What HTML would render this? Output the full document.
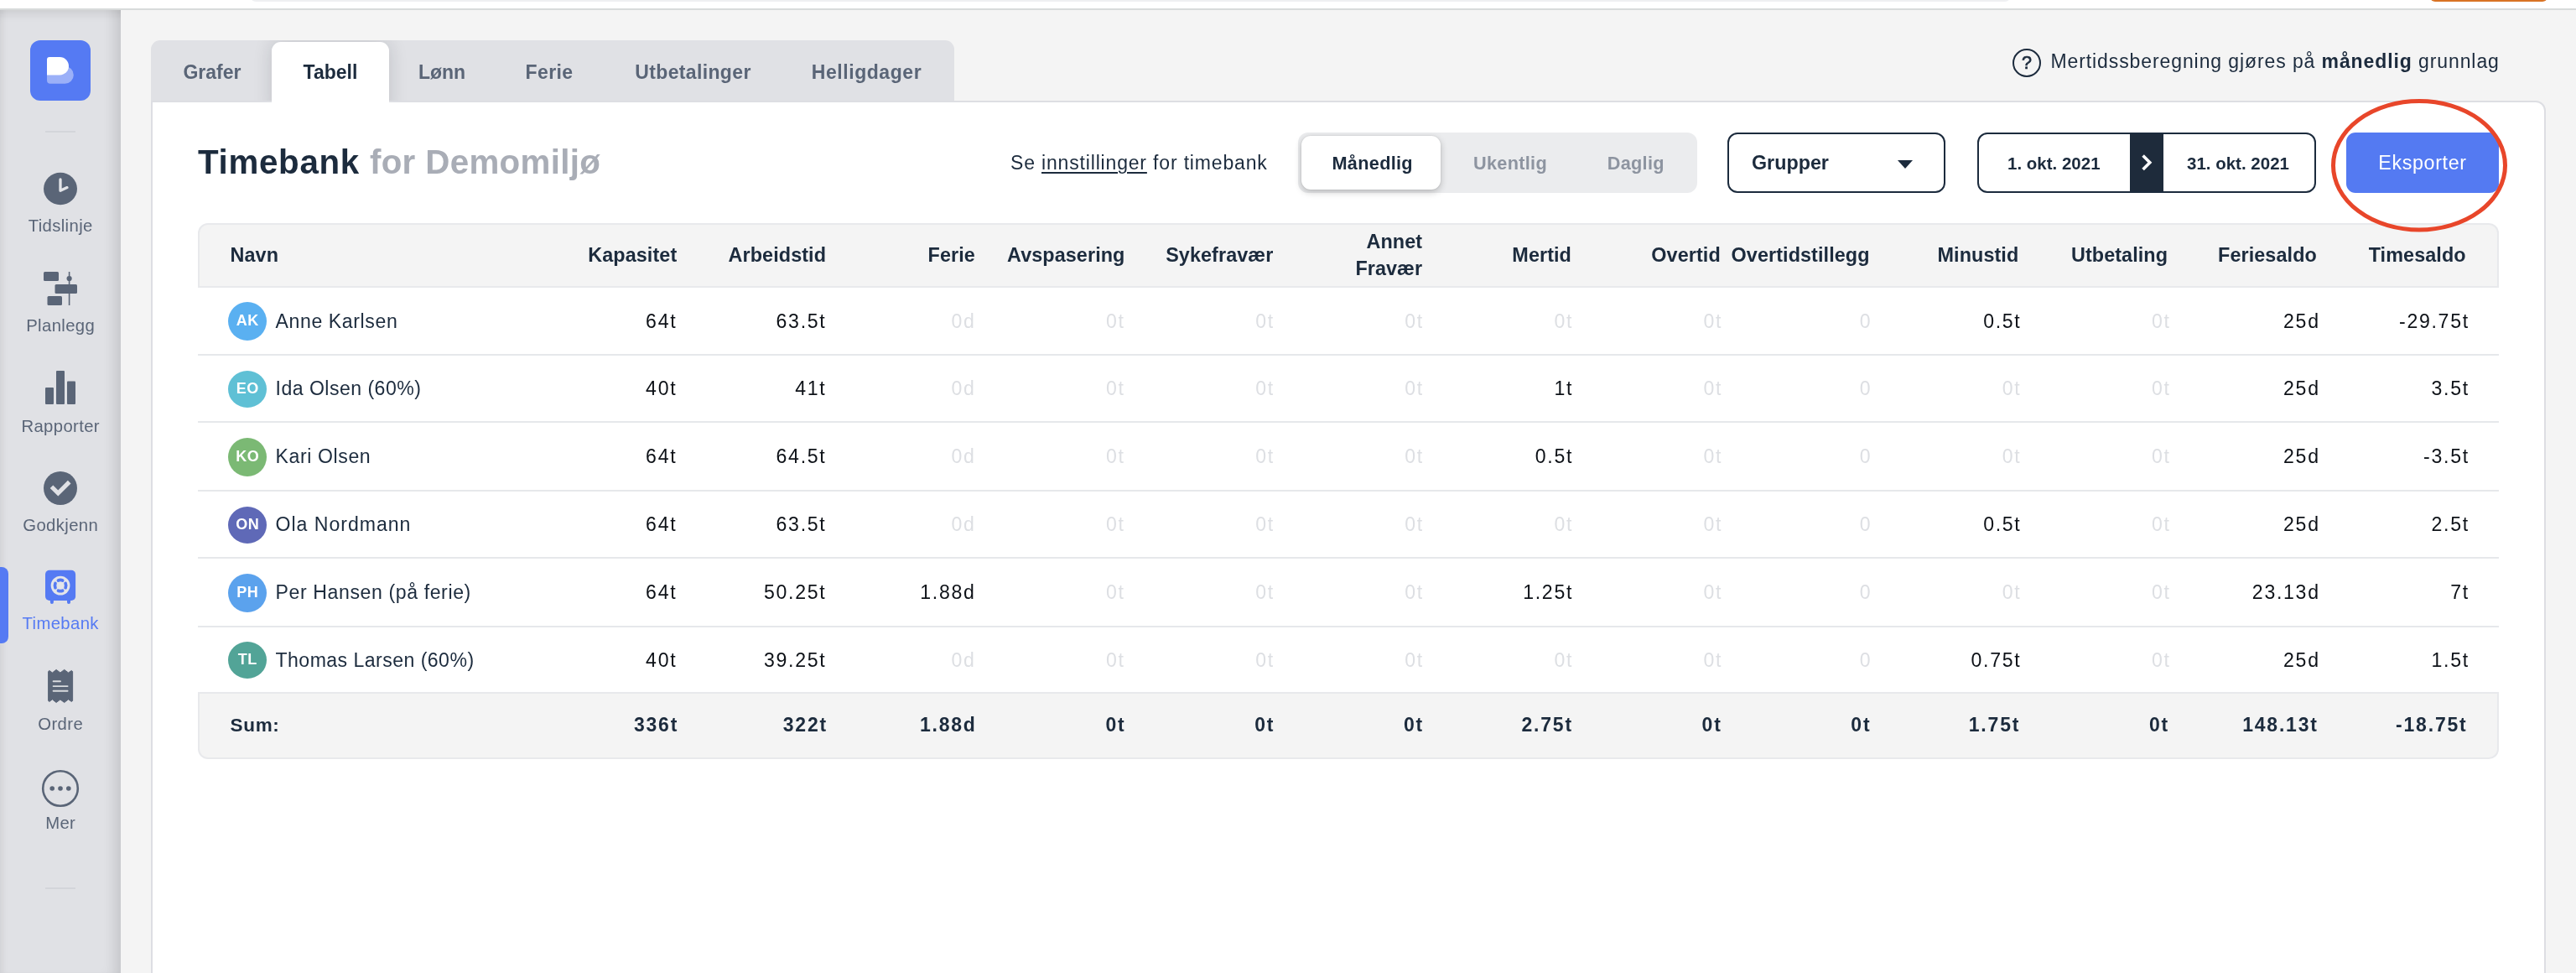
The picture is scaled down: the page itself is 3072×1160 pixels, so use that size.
<!DOCTYPE html>
<html lang="no">
<head>
<meta charset="utf-8">
<title>Timebank</title>
<style>
*{box-sizing:border-box;margin:0;padding:0}
html,body{width:3072px;height:1160px;overflow:hidden}
body{position:relative;will-change:transform;background:#f4f4f4;font-family:"Liberation Sans",sans-serif;color:#1c2b3d;-webkit-font-smoothing:antialiased}
.abs{position:absolute}
.t{position:absolute;white-space:nowrap;line-height:1}
.sb{-webkit-text-stroke:.7px currentColor}
.sb2{font-weight:bold}

/* top strip */
#topbar{position:absolute;z-index:5;left:0;top:0;width:3072px;height:12px;background:#fff;border-bottom:2px solid #d8dbdb}
#topbar .search{position:absolute;left:299px;top:-10px;width:2098px;height:12px;background:#eff0f2;border-radius:8px}
#topbar .cta{position:absolute;left:2898px;top:-10px;width:140px;height:12px;background:#d97324;border-radius:8px}

/* sidebar */
#side{position:absolute;left:0;top:0;width:144px;height:1160px;background:#e0e1e5;
 box-shadow:inset -17px 0 15px -10px rgba(0,0,0,.12),inset 8px 0 7px -5px rgba(0,0,0,.07),inset 0 26px 12px -10px rgba(0,0,0,.10)}
#logo{position:absolute;left:36px;top:48px;width:72px;height:72px;border-radius:12px;background:#557af3}
.hr{position:absolute;left:54px;width:36px;height:2px;background:#d3d5da}
.nav{position:absolute;left:0;width:144px;text-align:center;font-size:20.3px;letter-spacing:.38px;text-indent:.38px;line-height:1;color:#5a6577;white-space:nowrap}
.nav.act{color:#557af3}
#ind{position:absolute;left:0;top:676px;width:10px;height:91px;background:#557af3;border-radius:0 8px 8px 0}

/* tabs */
#tabs{position:absolute;left:180px;top:48px;width:958px;height:75px;background:#e0e1e5;border-radius:11px 11px 0 0;overflow:hidden}
#tabs .shade{position:absolute;left:144px;top:2px;width:140px;height:90px;border-radius:11px;box-shadow:0 0 22px rgba(20,25,40,.16)}
.tab{position:absolute;top:0;height:74px;font-size:23px;letter-spacing:0;line-height:1;color:#5a6577;white-space:nowrap}
.tab span{position:absolute;top:26.6px;left:0;right:0;text-align:center}
.tab.on{top:2px;background:#fff;border-radius:11px 11px 0 0;color:#1c2b3d;height:74px;box-shadow:0 0 14px rgba(0,0,0,.10)}
.tab.on span{top:24.6px}
#tabmask{position:absolute;left:180px;top:121px;width:960px;height:10px;background:#fff}
#info{position:absolute;left:2445.5px;top:62.4px;font-size:23px;line-height:1;white-space:nowrap;color:#1c2b3d;letter-spacing:.9px}
#q{position:absolute;left:2400px;top:58px;width:34px;height:34px;border:2.3px solid #1c2b3d;border-radius:50%;font-size:21.5px;line-height:30.5px;text-align:center;color:#1c2b3d}
/* card */
#card{position:absolute;left:180px;top:120px;width:2856px;height:1060px;background:#fff;border:2px solid #dddee3;border-radius:0 12px 0 0}
#title{position:absolute;left:236px;top:173.9px;font-size:40.3px;letter-spacing:.7px;line-height:1;font-weight:bold;white-space:nowrap;color:#1c2b3d}
#title em{font-style:normal;color:#a9adb6;letter-spacing:.35px}
#see{position:absolute;left:1205px;top:183px;font-size:23px;line-height:1;white-space:nowrap;letter-spacing:.83px}
#see u{text-decoration-thickness:2px;text-underline-offset:3px}
#seg{position:absolute;left:1548px;top:158px;width:476px;height:72px;background:#ebecee;border-radius:12px}
#seg .on{position:absolute;left:4px;top:4px;width:166px;height:64px;background:#fff;border-radius:11px;box-shadow:0 3px 8px rgba(0,0,0,.22),0 0 2px rgba(0,0,0,.12)}
#seg .lbl{position:absolute;top:25.6px;font-size:21.7px;letter-spacing:.3px;line-height:1;white-space:nowrap;color:#8d94a0}
#sel{position:absolute;left:2060px;top:158px;width:260px;height:72px;border:2.5px solid #1c2b3d;border-radius:12px;background:#fff}
#sel span{position:absolute;left:27px;top:23.3px;font-size:23.3px;line-height:1;font-weight:bold}
#sel i{position:absolute;left:201px;top:31px;width:0;height:0;border-left:9.5px solid transparent;border-right:9.5px solid transparent;border-top:10.5px solid #1c2b3d}
#range{position:absolute;left:2358px;top:158px;width:404px;height:72px;border:2.5px solid #1c2b3d;border-radius:12px;background:#fff;overflow:hidden}
#range b{position:absolute;top:25px;font-size:20.5px;line-height:1;white-space:nowrap}
#range .mid{position:absolute;left:179.5px;top:-3px;width:40px;height:78px;background:#1e2b3b}
#exp{position:absolute;left:2798px;top:158px;width:182px;height:72px;background:#547af2;border-radius:11px;color:#fff;font-size:23.3px;letter-spacing:.63px;line-height:72px;text-align:center}

/* table */
#tbl{position:absolute;left:236px;top:265px;width:2744px;height:639px;padding:2px;background:#fff}
.row{position:absolute;left:0;width:2744px;padding:0 2px;display:flex;border-top:2px solid #e6e8eb;font-size:23.1px;color:#0d1117}
.row>div{flex:none;width:177.79px;text-align:right;padding-right:38.2px;white-space:nowrap;letter-spacing:1.2px}
.row>div.n{width:429.7px;text-align:left;padding:0 0 0 90.5px;color:#1c2b3d;letter-spacing:.4px;position:relative;font-size:23.5px}
.row.b>div{width:178.125px;letter-spacing:1.7px;padding-right:37.2px}
.row.b>div.n{width:428.4px;letter-spacing:.6px;padding-right:0;font-size:23.1px}
.row .z{color:#dddfe3}
.row.hd{left:2px;width:2740px;padding:0;top:3px;height:72.5px;border-top:0;background:#f4f4f4;font-size:23.4px;color:#1c2b3d;line-height:72.5px;box-shadow:0 0 0 2px #e8e9ec;border-radius:10px 10px 0 0}
.row.hd>div{letter-spacing:.08px;padding-right:38.2px}
.row.hd>div.wide{margin-left:-40px;width:217.79px}
.row.hd>div.n{padding-left:36.5px;font-size:23.4px}
.row.hd .two{line-height:32.3px;padding-top:4.2px}
.row.sum{left:2px;width:2740px;padding:0;box-shadow:0 0 0 2px #e8e9ec;border-top:0;border-radius:0 0 10px 10px;background:#f4f4f4;font-weight:bold;font-size:23px;color:#1c2b3d}
.row.sum>div{letter-spacing:1.8px;padding-right:36.3px}
.row.sum>div.n{padding-left:36.5px;font-size:22.5px;letter-spacing:.7px}
.av{position:absolute;left:34px;top:50%;width:46px;height:46px;margin-top:-22.5px;border-radius:50%;color:#fff;font-size:18px;font-weight:bold;line-height:44px;text-align:center;letter-spacing:.4px;text-indent:.4px}
.av.s{height:44px;margin-top:-21.5px;line-height:42.5px}
</style>
</head>
<body>

<div id="topbar"><div class="search"></div><div class="cta"></div></div>

<nav id="side">
  <div id="logo">
    <svg width="72" height="72" viewBox="0 0 72 72">
      <path d="M20 31 H41.4 A10.4 10.4 0 0 1 41.4 51.8 H24 A4 4 0 0 1 20 47.8 Z" fill="#9bb0f8"/>
      <path d="M20 23 A3 3 0 0 1 23 20 H35.3 A10.7 10.7 0 0 1 35.3 41.4 H20 Z" fill="#fff"/>
    </svg>
  </div>
  <div class="hr" style="top:156px"></div>
  <div class="hr" style="top:1058px"></div>
  <div id="ind"></div>
  <svg class="abs" style="left:0;top:0" width="144" height="1160" viewBox="0 0 144 1160">
    <!-- Tidslinje clock -->
    <ellipse cx="72" cy="225" rx="20" ry="19.2" fill="#5a6577"/>
    <path d="M72 214 V227.3 L80 223.6" fill="none" stroke="#e3e4e8" stroke-width="3.3" stroke-linecap="round" stroke-linejoin="round"/>
    <!-- Planlegg gantt -->
    <g fill="#5a6577">
      <rect x="52" y="324" width="18" height="11" rx="1.5"/>
      <rect x="65.5" y="339" width="26.5" height="11" rx="1.5"/>
      <rect x="56.5" y="353" width="17.5" height="11" rx="1.5"/>
      <rect x="81.8" y="324" width="1.6" height="40"/>
      <circle cx="82.6" cy="332" r="3.1"/>
    </g>
    <!-- Rapporter bars -->
    <g fill="#5a6577">
      <rect x="54" y="462" width="10" height="20" rx="1"/>
      <rect x="67" y="442" width="10" height="40" rx="1"/>
      <rect x="80" y="454.5" width="10" height="27.5" rx="1"/>
    </g>
    <!-- Godkjenn check -->
    <circle cx="72" cy="582" r="20" fill="#5a6577"/>
    <path d="M61.5 580.2 L69.3 588 L82.7 574.6" fill="none" stroke="#e0e1e5" stroke-width="5.1"/>
    <!-- Timebank safe -->
    <g>
      <rect x="54" y="679.8" width="36.1" height="36.2" rx="5" fill="#557af3"/>
      <rect x="59.9" y="712" width="4" height="8" rx="2" fill="#557af3"/>
      <rect x="80" y="712" width="4" height="8" rx="2" fill="#557af3"/>
      <circle cx="72.05" cy="698.1" r="11.4" fill="#e4e5e9"/>
      <path d="M69.47 692.02 A6.6 6.6 0 0 1 74.63 692.02 M78.13 695.52 A6.6 6.6 0 0 1 78.13 700.68 M74.63 704.18 A6.6 6.6 0 0 1 69.47 704.18 M65.97 700.68 A6.6 6.6 0 0 1 65.97 695.52" fill="none" stroke="#557af3" stroke-width="3.7" stroke-linecap="round"/>
    </g>
    <!-- Ordre receipt -->
    <path d="M57.6 800.6 L58.9 799.5 L62.4 802 L67.1 798.4 L71.9 802 L76.7 798.4 L81.5 802 L85.3 799.5 L86.6 800.6 V835.4 L85.3 836.4 L81.5 833.8 L76.7 837.5 L71.9 833.9 L67.1 837.5 L62.4 833.8 L58.9 836.4 L57.6 835.4 Z" fill="#5a6577" stroke="#5a6577" stroke-width="1" stroke-linejoin="round"/>
    <g stroke="#d9dbdf" stroke-width="1.9" stroke-linecap="round">
      <path d="M63.6 812.2 H72 M63.6 818.1 H80.6 M63.6 823.8 H80.6"/>
    </g>
    <!-- Mer -->
    <circle cx="72" cy="940" r="20.8" fill="none" stroke="#5a6577" stroke-width="2.6"/>
    <g fill="#5a6577"><circle cx="62.2" cy="940" r="2.8"/><circle cx="72" cy="940" r="2.8"/><circle cx="81.8" cy="940" r="2.8"/></g>
  </svg>
  <div class="nav" style="top:258.6px">Tidslinje</div>
  <div class="nav" style="top:377.6px">Planlegg</div>
  <div class="nav" style="top:497.6px">Rapporter</div>
  <div class="nav" style="top:615.6px">Godkjenn</div>
  <div class="nav act" style="top:732.6px">Timebank</div>
  <div class="nav" style="top:852.6px">Ordre</div>
  <div class="nav" style="top:970.6px">Mer</div>
</nav>

<div id="tabs">
  <div class="shade"></div>
  <div class="tab" style="left:2px;width:142px"><span class="sb2">Grafer</span></div>
  <div class="tab" style="left:284px;width:126px"><span class="sb2">Lønn</span></div>
  <div class="tab" style="left:410px;width:130px"><span class="sb2" style="letter-spacing:.4px">Ferie</span></div>
  <div class="tab" style="left:540px;width:213px"><span class="sb2" style="letter-spacing:.35px">Utbetalinger</span></div>
  <div class="tab" style="left:753px;width:203px"><span class="sb2" style="letter-spacing:.55px;left:-2px">Helligdager</span></div>
</div>
<div id="info"><span>Mertidssberegning gjøres på </span><b>månedlig</b><span> grunnlag</span></div>
<div id="q" class="sb">?</div>

<main id="card"></main>
<div class="tab on abs" style="left:324px;top:50px;width:140px;height:74px;box-shadow:none"><span class="sb2">Tabell</span></div>

<h1 id="title">Timebank <em>for Demomiljø</em></h1>
<div id="see">Se <u>innstillinger</u> for timebank</div>
<div id="seg">
  <div class="on"></div>
  <div class="lbl sb2" style="left:40.5px;color:#1c2b3d">Månedlig</div>
  <div class="lbl sb2" style="left:209px">Ukentlig</div>
  <div class="lbl sb2" style="left:368.7px">Daglig</div>
</div>
<div id="sel"><span>Grupper</span><i></i></div>
<div id="range">
  <b style="left:34px">1. okt. 2021</b>
  <div class="mid"><svg width="40" height="78" viewBox="0 0 40 78"><path d="M15.6 28.6 L23.8 36.8 L15.6 45" fill="none" stroke="#fff" stroke-width="3.6"/></svg></div>
  <b style="left:248px">31. okt. 2021</b>
</div>
<section id="tbl">
  <div class="row hd"><div class="n sb2">Navn</div><div class="sb2">Kapasitet</div><div class="sb2">Arbeidstid</div><div class="sb2">Ferie</div><div class="sb2">Avspasering</div><div class="sb2">Sykefravær</div><div class="sb2 two">Annet<br>Fravær</div><div class="sb2">Mertid</div><div class="sb2">Overtid</div><div class="sb2 wide">Overtidstillegg</div><div class="sb2">Minustid</div><div class="sb2">Utbetaling</div><div class="sb2">Feriesaldo</div><div class="sb2">Timesaldo</div></div>
  <div class="row b" style="top:76px;height:81px;line-height:80px;border-top-color:transparent"><div class="n"><span class="av" style="background:#5ab0f1">AK</span>Anne Karlsen</div><div>64t</div><div>63.5t</div><div class="z">0d</div><div class="z">0t</div><div class="z">0t</div><div class="z">0t</div><div class="z">0t</div><div class="z">0t</div><div class="z">0</div><div>0.5t</div><div class="z">0t</div><div>25d</div><div>-29.75t</div></div>
  <div class="row b" style="top:157px;height:80px;line-height:79px"><div class="n"><span class="av s" style="background:#5fc0d5">EO</span><span style="letter-spacing:0.47px">Ida Olsen (60%)</span></div><div>40t</div><div>41t</div><div class="z">0d</div><div class="z">0t</div><div class="z">0t</div><div class="z">0t</div><div>1t</div><div class="z">0t</div><div class="z">0</div><div class="z">0t</div><div class="z">0t</div><div>25d</div><div>3.5t</div></div>
  <div class="row b" style="top:237px;height:82px;line-height:81px"><div class="n"><span class="av" style="background:#7bb974">KO</span>Kari Olsen</div><div>64t</div><div>64.5t</div><div class="z">0d</div><div class="z">0t</div><div class="z">0t</div><div class="z">0t</div><div>0.5t</div><div class="z">0t</div><div class="z">0</div><div class="z">0t</div><div class="z">0t</div><div>25d</div><div>-3.5t</div></div>
  <div class="row b" style="top:319px;height:80px;line-height:79px"><div class="n"><span class="av s" style="background:#5f69b7">ON</span><span style="letter-spacing:0.98px">Ola Nordmann</span></div><div>64t</div><div>63.5t</div><div class="z">0d</div><div class="z">0t</div><div class="z">0t</div><div class="z">0t</div><div class="z">0t</div><div class="z">0t</div><div class="z">0</div><div>0.5t</div><div class="z">0t</div><div>25d</div><div>2.5t</div></div>
  <div class="row b" style="top:399px;height:82px;line-height:81px"><div class="n"><span class="av" style="background:#5ba2ed">PH</span>Per Hansen (på ferie)</div><div>64t</div><div>50.25t</div><div>1.88d</div><div class="z">0t</div><div class="z">0t</div><div class="z">0t</div><div>1.25t</div><div class="z">0t</div><div class="z">0</div><div class="z">0t</div><div class="z">0t</div><div>23.13d</div><div>7t</div></div>
  <div class="row b" style="top:481px;height:79px;line-height:78px"><div class="n"><span class="av s" style="background:#52a497">TL</span><span style="letter-spacing:0.45px">Thomas Larsen (60%)</span></div><div>40t</div><div>39.25t</div><div class="z">0d</div><div class="z">0t</div><div class="z">0t</div><div class="z">0t</div><div class="z">0t</div><div class="z">0t</div><div class="z">0</div><div>0.75t</div><div class="z">0t</div><div>25d</div><div>1.5t</div></div>
  <div class="row sum" style="top:562px;height:76px;line-height:75px"><div class="n">Sum:</div><div>336t</div><div>322t</div><div>1.88d</div><div>0t</div><div>0t</div><div>0t</div><div>2.75t</div><div>0t</div><div>0t</div><div>1.75t</div><div>0t</div><div>148.13t</div><div>-18.75t</div></div>
</section>
<div id="exp">Eksporter</div>
<svg class="abs" style="left:2770px;top:108px" width="232" height="180" viewBox="0 0 232 180">
  <ellipse cx="115" cy="89.3" rx="102.5" ry="76.8" fill="none" stroke="#e8462a" stroke-width="5"/>
</svg>

</body>
</html>
